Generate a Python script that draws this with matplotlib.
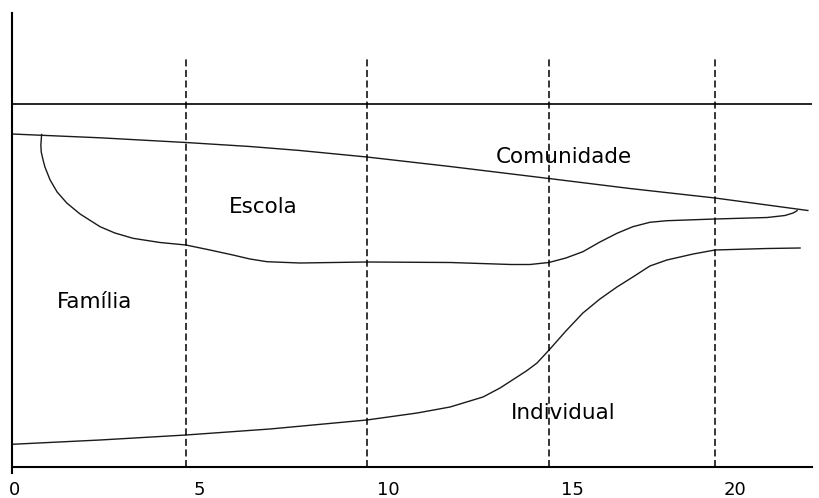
import matplotlib
matplotlib.use('Agg')
import matplotlib.pyplot as plt

# x in years, y is just a relative height above the bottom axis
tick_pos = [0.08, 5.05, 10.16, 15.15, 19.54]
tick_labels = ['0', '5', '10', '15', '20']
dash_x = [4.70, 9.59, 14.51, 19.0]
top_level = 363

comunidade_x = [0, 2.38, 4.70, 6.43, 7.78, 9.59, 11.84, 14.51, 16.70, 19.0, 20.41, 21.51]
comunidade_y = [333, 329.2, 324.5, 320.5, 316.5, 310, 300.5, 288.5, 278.5, 269, 262, 256.5]

escola_x = [0.80, 0.78, 0.79, 0.84, 0.89, 1.03, 1.22, 1.48, 1.84, 2.38, 2.78, 3.27, 4.0,
            4.70, 5.35, 5.97, 6.43, 6.89, 7.78, 9.59, 11.84, 13.49, 14.0, 14.51, 14.97,
            15.43, 15.89, 16.35, 16.78, 17.24, 17.70, 19.0, 20.41, 20.89, 21.11, 21.22]
escola_y = [332.5, 322, 315, 307, 300, 287, 275, 264, 253, 240.3, 234, 228.7, 224.5,
            222, 217, 212, 208, 205.3, 204, 205, 204.5, 202.5, 202.5, 204.5, 209,
            215.3, 225, 233.7, 240.3, 244.7, 246.3, 248, 249.5, 251.5, 254, 256.3]

individual_x = [0, 2.38, 4.70, 6.97, 9.59, 10.95, 11.84, 12.73, 13.19, 13.65, 13.92,
                14.19, 14.54, 14.97, 15.43, 15.89, 16.35, 16.78, 17.24, 17.70, 18.41,
                19.0, 20.41, 21.30]
individual_y = [22.7, 27, 32, 38, 47, 54, 60, 70, 79, 90, 96.5, 104, 118, 136, 154, 168,
                180, 190, 201, 207, 213, 217, 218.5, 219]

labels = ['Comunidade', 'Escola', 'Família', 'Individual']
label_x = [14.91, 6.78, 2.22, 14.89]
label_y = [303.7, 253.7, 158.7, 47.7]

fig = plt.figure(figsize=(8.2, 4.98), dpi=100)
ax = fig.add_axes([12 / 820, 25 / 498, 800 / 820, 460 / 498])
ax.set_xlim(0, 800 / 37)
ax.set_ylim(-6, 454)

line_color = '#1a1a1a'
ax.plot(comunidade_x, comunidade_y, color=line_color, lw=1.0, solid_joinstyle='round')
ax.plot(escola_x, escola_y, color=line_color, lw=1.0, solid_joinstyle='round')
ax.plot(individual_x, individual_y, color=line_color, lw=1.0, solid_joinstyle='round')
ax.axhline(top_level, color='black', lw=1.2)
ax.vlines(dash_x, 0, 410, colors='black', lw=1.1, linestyles=(0, (4.6, 2.3)))

for t, x, y in zip(labels, label_x, label_y):
    ax.text(x, y, t, fontsize=15.5, ha='center', va='baseline', color='black')

ax.spines['top'].set_visible(False)
ax.spines['right'].set_visible(False)
ax.spines['bottom'].set_position(('data', 0))
ax.spines['left'].set_linewidth(1.5)
ax.spines['bottom'].set_linewidth(1.5)
ax.set_yticks([])
ax.set_xticks(tick_pos)
ax.set_xticklabels(tick_labels, fontsize=13)
ax.tick_params(axis='x', length=0, pad=10)

fig.savefig('out.png', dpi=100)
